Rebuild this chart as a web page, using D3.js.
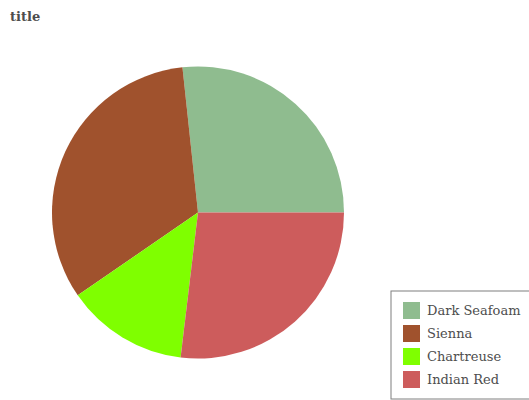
<!DOCTYPE html>
<html>
<head>
<meta charset="utf-8">
<script src="https://cdn.jsdelivr.net/npm/d3@7"></script>
<style>
  body { margin: 0; background: #fff; }
  svg { display: block; }
</style>
</head>
<body>
<div id="chart"></div>
<script>
// data
var categories = ["Dark Seafoam", "Sienna", "Chartreuse", "Indian Red"];
var values = [26.7, 32.9, 13.5, 26.9];
var colors = ["#8FBC8F", "#A0522D", "#7FFF00", "#CD5C5C"];

var width = 529, height = 400;
var cx = 198, cy = 212.5, radius = 146;

var svg = d3.select("#chart").append("svg")
  .attr("width", width)
  .attr("height", height);

svg.append("text")
  .attr("x", 10)
  .attr("y", 21)
  .style("font-family", "'DejaVu Serif'")
  .style("font-weight", "bold")
  .style("font-size", "13px")
  .attr("fill", "#4d4d4d")
  .text("title");

var color = d3.scaleOrdinal().domain(categories).range(colors);

// slices run counterclockwise starting at 3 o'clock
var pie = d3.pie()
  .sort(null)
  .startAngle(Math.PI / 2)
  .endAngle(Math.PI / 2 - 2 * Math.PI)
  .value(function (d, i) { return values[i]; });

var arc = d3.arc().innerRadius(0).outerRadius(radius);

var g = svg.append("g")
  .attr("transform", "translate(" + cx + "," + cy + ")");

g.selectAll("path")
  .data(pie(categories))
  .join("path")
  .attr("d", arc)
  .attr("fill", function (d) { return color(d.data); });

// legend
var legend = svg.append("g").attr("transform", "translate(391,291)");

legend.append("rect")
  .attr("x", 0)
  .attr("y", 0)
  .attr("width", 145)
  .attr("height", 108)
  .attr("fill", "#fff")
  .attr("stroke", "#7f7f7f")
  .attr("stroke-width", 1);

var items = legend.selectAll("g.item")
  .data(categories)
  .join("g")
  .attr("class", "item")
  .attr("transform", function (d, i) { return "translate(12," + (11 + i * 23) + ")"; });

items.append("rect")
  .attr("width", 17)
  .attr("height", 17)
  .attr("fill", function (d) { return color(d); });

items.append("text")
  .attr("x", 24)
  .attr("y", 13)
  .style("font-family", "'DejaVu Serif'")
  .style("font-size", "13px")
  .attr("fill", "#4d4d4d")
  .text(function (d) { return d; });
</script>
</body>
</html>
